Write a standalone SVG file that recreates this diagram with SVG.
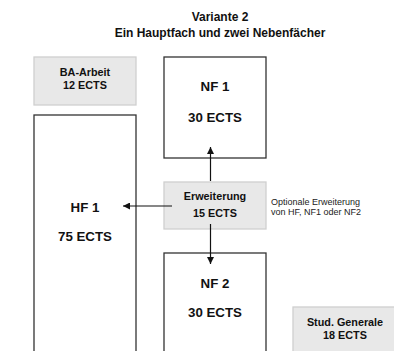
<svg xmlns="http://www.w3.org/2000/svg" width="394" height="351" viewBox="0 0 394 351">
<style>
text{font-family:"Liberation Sans",Arial,sans-serif;fill:#111;text-anchor:middle}
.t{font-size:12px;font-weight:bold}
.b{font-size:10.8px;font-weight:bold}
.l{font-size:13.3px;font-weight:bold}
.s{font-size:9px;text-anchor:start;fill:#222}
.w{fill:#fff;stroke:#333;stroke-width:1.3}
.g{fill:#e8e8e8;stroke:#cfcfcf;stroke-width:1.3}
.c{stroke:#111;stroke-width:1.2;fill:none}
</style>
<defs>
<marker id="ah" viewBox="0 0 10 10" refX="10" refY="5" markerWidth="7" markerHeight="7" markerUnits="userSpaceOnUse" orient="auto">
<path d="M0,0L10,5L0,10z" fill="#111"/>
</marker>
</defs>
<rect width="394" height="351" fill="#fff"/>
<g id="title">
<text class="t" x="220" y="21">Variante 2</text>
<text class="t" x="220" y="37">Ein Hauptfach und zwei Nebenfächer</text>
</g>
<g id="ba">
<rect class="g" x="34" y="57" width="102" height="48"/>
<text class="b" x="85" y="76">BA-Arbeit</text>
<text class="b" x="85" y="89">12 ECTS</text>
</g>
<g id="nf1">
<rect class="w" x="164" y="57" width="102" height="101"/>
<text class="l" x="215" y="91">NF 1</text>
<text class="l" x="215" y="122">30 ECTS</text>
</g>
<g id="hf1">
<rect class="w" x="34" y="115" width="102" height="250"/>
<text class="l" x="85" y="212">HF 1</text>
<text class="l" x="85" y="241">75 ECTS</text>
</g>
<g id="erw">
<rect class="g" x="164" y="182" width="102" height="47"/>
<text class="b" x="215" y="200">Erweiterung</text>
<text class="b" x="215" y="217">15 ECTS</text>
</g>
<g id="note">
<text class="s" x="271" y="205">Optionale Erweiterung</text>
<text class="s" x="271" y="215">von HF, NF1 oder NF2</text>
</g>
<g id="nf2">
<rect class="w" x="164" y="253" width="102" height="110"/>
<text class="l" x="215" y="288">NF 2</text>
<text class="l" x="215" y="317">30 ECTS</text>
</g>
<g id="sg">
<rect class="g" x="293" y="307" width="110" height="50"/>
<text class="b" x="345" y="326">Stud. Generale</text>
<text class="b" x="345" y="339">18 ECTS</text>
</g>
<g id="connectors">
<line class="c" x1="210.5" y1="181" x2="210.5" y2="147" marker-end="url(#ah)"/>
<line class="c" x1="172" y1="206" x2="123" y2="206" marker-end="url(#ah)"/>
<line class="c" x1="210.5" y1="224" x2="210.5" y2="264" marker-end="url(#ah)"/>
</g>
</svg>
